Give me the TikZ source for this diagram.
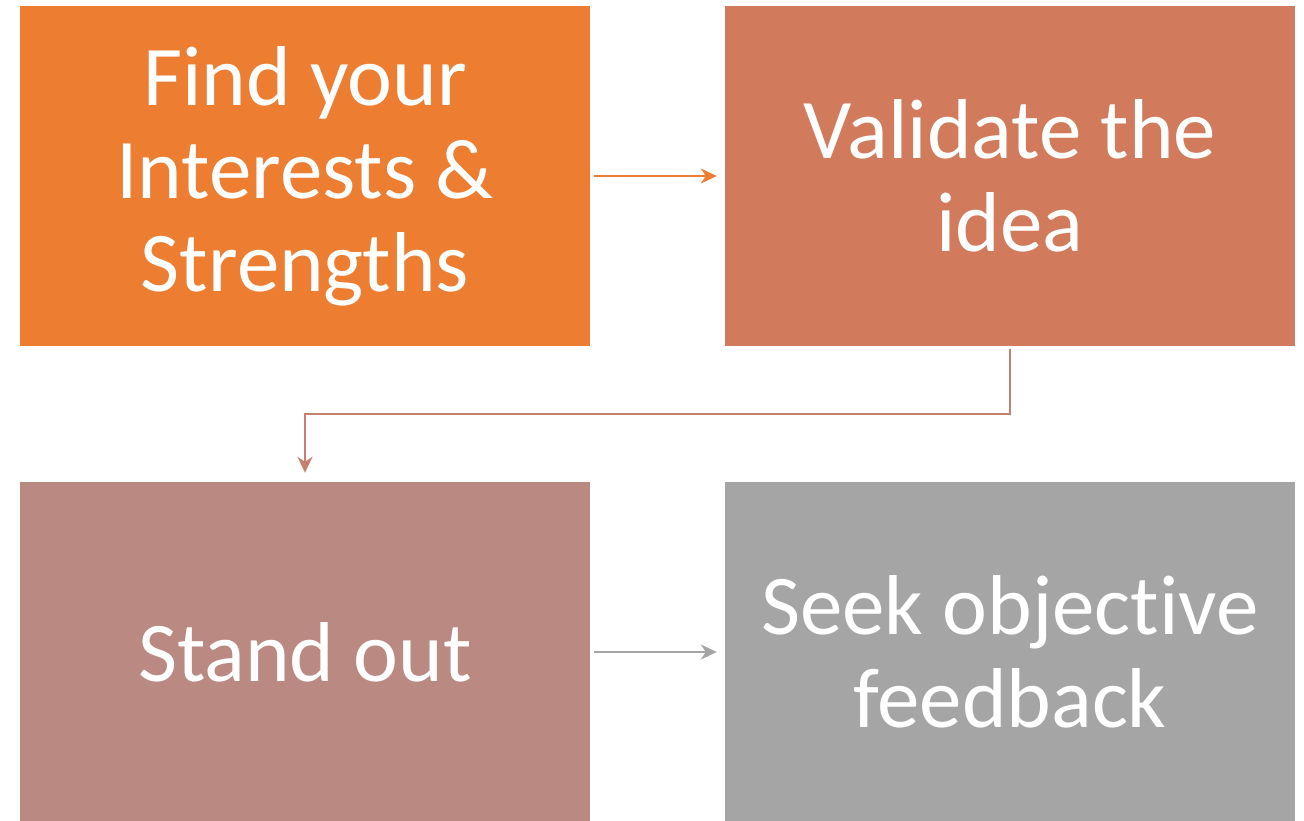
\documentclass[tikz,border=0pt]{standalone}
\usepackage{fontspec}
\setmainfont[Ligatures=NoCommon]{Carlito}
\usetikzlibrary{arrows.meta}
\definecolor{cA}{HTML}{ED7D31}
\definecolor{cB}{HTML}{D27A5C}
\definecolor{cC}{HTML}{B98982}
\definecolor{cD}{HTML}{A5A5A5}
\definecolor{cBC}{HTML}{C67F70}
\tikzset{
  box/.style={draw=none, minimum width=570pt, minimum height=340pt, inner sep=0pt,
    text=white, align=center, font=\fontsize{85}{93}\selectfont},
  conn/.style={line width=2pt, -{Stealth[length=16pt,width=15pt,inset=5pt]}}
}
\begin{document}
\begin{tikzpicture}[x=1pt,y=-1pt]
\useasboundingbox (0,0) rectangle (1304,820);
\node[box, fill=cA] (a) at (305,176) {Find your\\Interests \&\\Strengths};
\node[box, fill=cB] (b) at (1010,176) {Validate the\\idea};
\node[box, fill=cC] (c) at (305,652) {Stand out};
\node[box, fill=cD] (d) at (1010,652) {Seek objective\\feedback};
\draw[conn, cA] ([xshift=4pt]a.east) -- ([xshift=-8pt]b.west);
\draw[conn, cBC] ([yshift=-3pt]b.south) -- ++(0,65) -| ([yshift=9pt]c.north);
\draw[conn, cD] ([xshift=4pt]c.east) -- ([xshift=-8pt]d.west);
\end{tikzpicture}
\end{document}
